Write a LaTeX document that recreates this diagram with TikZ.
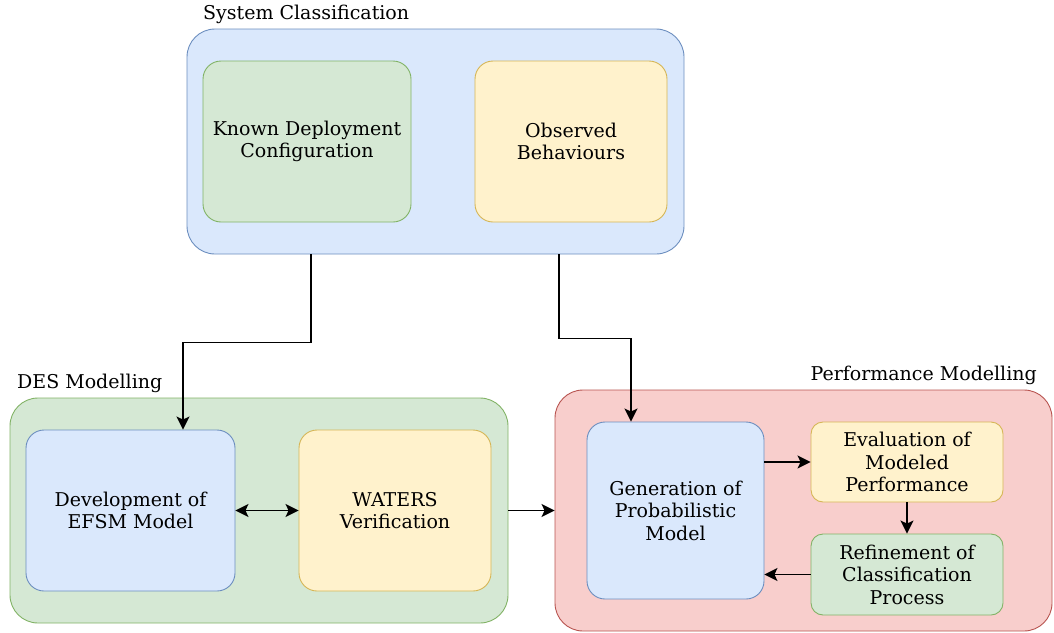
\documentclass[tikz,border=0pt]{standalone}
\usepackage{fontspec}
\setmainfont{DejaVu Serif}
\usetikzlibrary{arrows.meta}

\definecolor{blueFill}{HTML}{DAE8FC}
\definecolor{blueLine}{HTML}{6C8EBF}
\definecolor{greenFill}{HTML}{D5E8D4}
\definecolor{greenLine}{HTML}{82B366}
\definecolor{yellowFill}{HTML}{FFF2CC}
\definecolor{yellowLine}{HTML}{D6B656}
\definecolor{redFill}{HTML}{F8CECC}
\definecolor{redLine}{HTML}{B85450}

\tikzset{
    box/.style={rectangle, rounded corners=18pt, line width=0.9pt, align=center,
        font=\fontsize{19}{22.5}\selectfont, inner sep=0pt},
    group/.style={box, rounded corners=28pt},
    bluebox/.style={box, draw=blueLine, fill=blueFill},
    greenbox/.style={box, draw=greenLine, fill=greenFill},
    yellowbox/.style={box, draw=yellowLine, fill=yellowFill},
    redbox/.style={box, draw=redLine, fill=redFill},
    title/.style={font=\fontsize{19}{22.5}\selectfont, inner sep=0pt},
    flow/.style={line width=1.5pt, -{Stealth[length=13pt,width=13pt,inset=3pt]}},
    flowboth/.style={line width=1.5pt, {Stealth[length=13pt,width=13pt,inset=3pt]}-{Stealth[length=13pt,width=13pt,inset=3pt]}}
}

\begin{document}
\begin{tikzpicture}[x=1pt, y=-1pt]
            \useasboundingbox (0, 0) rectangle (1054, 632);
            % system classification
            \node (sc) at (435.5, 141.5)[bluebox, group, minimum width=497, minimum height=225]{};
            \node (scLabel) at (203, 14)[title, anchor=west]{System Classification};
            \node (kdc) at (307, 141.5)[greenbox, minimum width=208, minimum height=161]{Known Deployment\\Configuration};
            \node (obs) at (571, 141.5)[yellowbox, minimum width=192, minimum height=161]{Observed\\Behaviours};
            % DES modelling
            \node (des) at (259, 510.5)[greenbox, group, minimum width=498, minimum height=225]{};
            \node (desLabel) at (17, 383)[title, anchor=west]{DES Modelling};
            \node (dev) at (130.5, 510.5)[bluebox, minimum width=209, minimum height=161]{Development of\\EFSM Model};
            \node (wat) at (395, 510.5)[yellowbox, minimum width=192, minimum height=161]{WATERS\\Verification};
            % performance modelling
            \node (perf) at (803.5, 510.5)[redbox, group, minimum width=497, minimum height=241]{};
            \node (perfLabel) at (1037, 375)[title, anchor=east]{Performance Modelling};
            \node (gen) at (675.5, 510.5)[bluebox, minimum width=177, minimum height=177]{Generation of\\Probabilistic\\Model};
            \node (eva) at (907, 462)[yellowbox, rounded corners=12pt, minimum width=192, minimum height=80]{Evaluation of\\Modeled\\Performance};
            \node (ref) at (907, 574.5)[greenbox, rounded corners=12pt, minimum width=192, minimum height=81]{Refinement of\\Classification\\Process};
            % connectors
            \draw[flow] ([xshift=4pt]kdc.south |- sc.south) -- ++(0, 88) -| ([xshift=52.5pt]dev.north);
            \draw[flow] ([xshift=-12pt]obs.south |- sc.south) -- ++(0, 84) -| ([xshift=-44.5pt]gen.north);
            \draw[flowboth] (dev.east) -- (wat.west);
            \draw[flow] (des.east) -- (perf.west);
            \draw[flow] (gen.east |- eva.west) -- (eva.west);
            \draw[flow] (eva.south) -- (ref.north);
            \draw[flow] (ref.west) -- (gen.east |- ref.west);
        \end{tikzpicture}
\end{document}
